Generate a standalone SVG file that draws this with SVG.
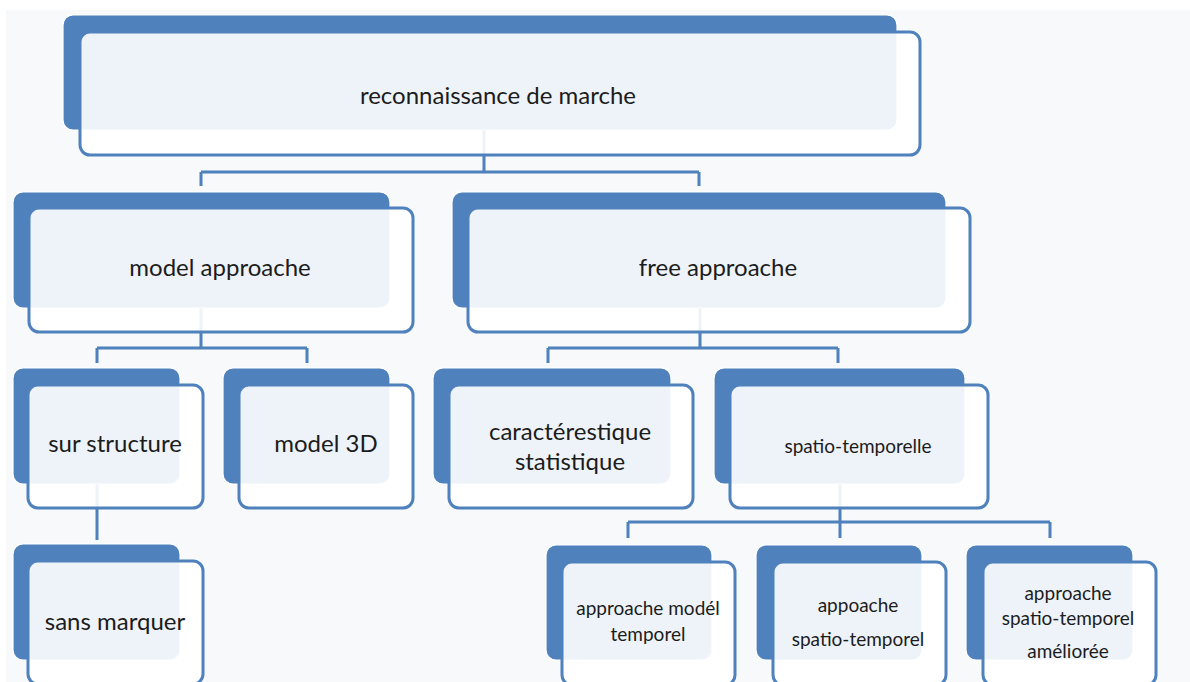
<svg xmlns="http://www.w3.org/2000/svg" width="1190" height="682" viewBox="0 0 1190 682">
  <style>
    .back { fill: #4F81BD; stroke: #ffffff; stroke-width: 1.2; }
    .front { fill: #ffffff; fill-opacity: 0.9; stroke: #4F81BD; stroke-width: 3; }
    .link { fill: none; stroke: #4F81BD; stroke-width: 3; }
    text { font-family: Lato, "Liberation Sans", sans-serif; fill: #1c1c1c; text-anchor: middle; }
    .big { font-size: 24px; }
    .small { font-size: 19px; }
  </style>

  <!-- page background -->
  <rect x="0" y="0" width="1190" height="682" fill="#ffffff"/>
  <rect x="6" y="10" width="1184" height="672" fill="#F7F9FB"/>

  <!-- tree connectors (drawn first so node panels sit on top) -->
  <g id="connectors">
    <path class="link" d="M484,130 V172 M201,172 H699 M201,172 V186 M699,172 V186"/>
    <path class="link" d="M201,308 V348 M97,348 H307 M97,348 V363 M307,348 V363"/>
    <path class="link" d="M700,308 V348 M548,348 H838 M548,348 V363 M838,348 V363"/>
    <path class="link" d="M97,484 V540"/>
    <path class="link" d="M840,484 V522 M628,522 H1050 M628,522 V538 M840,522 V538 M1050,522 V538"/>
  </g>

  <g id="reconnaissance-de-marche">
    <rect class="back" x="63" y="15" width="834" height="115" rx="10"/>
    <rect class="front" x="80" y="32" width="840" height="123" rx="10"/>
    <text class="big" x="498" y="104">reconnaissance de marche</text>
  </g>

  <g id="model-approache">
    <rect class="back" x="13" y="192" width="377" height="116" rx="10"/>
    <rect class="front" x="29" y="208" width="384" height="124" rx="10"/>
    <text class="big" x="220" y="276">model approache</text>
  </g>

  <g id="free-approache">
    <rect class="back" x="452" y="192" width="494" height="116" rx="10"/>
    <rect class="front" x="468" y="208" width="502" height="124" rx="10"/>
    <text class="big" x="718" y="276">free approache</text>
  </g>

  <g id="sur-structure">
    <rect class="back" x="13" y="368" width="167" height="116" rx="10"/>
    <rect class="front" x="28" y="385" width="175" height="123" rx="10"/>
    <text class="big" x="115" y="452">sur structure</text>
  </g>

  <g id="model-3d">
    <rect class="back" x="223" y="368" width="167" height="116" rx="10"/>
    <rect class="front" x="239" y="385" width="174" height="123" rx="10"/>
    <text class="big" x="326" y="452">model 3D</text>
  </g>

  <g id="caracteristique-statistique">
    <rect class="back" x="433" y="368" width="238" height="116" rx="10"/>
    <rect class="front" x="449" y="385" width="244" height="123" rx="10"/>
    <text class="big" x="570" y="440">caractérestique</text>
    <text class="big" x="570" y="470">statistique</text>
  </g>

  <g id="spatio-temporelle">
    <rect class="back" x="714" y="368" width="251" height="116" rx="10"/>
    <rect class="front" x="730" y="385" width="258" height="123" rx="10"/>
    <text class="small" x="858" y="453">spatio-temporelle</text>
  </g>

  <g id="sans-marquer">
    <rect class="back" x="13" y="544" width="167" height="116" rx="10"/>
    <rect class="front" x="28" y="561" width="175" height="123" rx="10"/>
    <text class="big" x="115" y="630">sans marquer</text>
  </g>

  <g id="approache-model-temporel">
    <rect class="back" x="546" y="545" width="166" height="115" rx="10"/>
    <rect class="front" x="562" y="562" width="173" height="123" rx="10"/>
    <text class="small" x="648" y="615">approache modél</text>
    <text class="small" x="648" y="641">temporel</text>
  </g>

  <g id="appoache-spatio-temporel">
    <rect class="back" x="756" y="545" width="166" height="115" rx="10"/>
    <rect class="front" x="773" y="562" width="173" height="123" rx="10"/>
    <text class="small" x="858" y="612">appoache</text>
    <text class="small" x="858" y="646">spatio-temporel</text>
  </g>

  <g id="approache-spatio-temporel-amelioree">
    <rect class="back" x="966" y="545" width="167" height="115" rx="10"/>
    <rect class="front" x="983" y="562" width="173" height="123" rx="10"/>
    <text class="small" x="1068" y="600">approache</text>
    <text class="small" x="1068" y="625">spatio-temporel</text>
    <text class="small" x="1068" y="658">améliorée</text>
  </g>
</svg>
